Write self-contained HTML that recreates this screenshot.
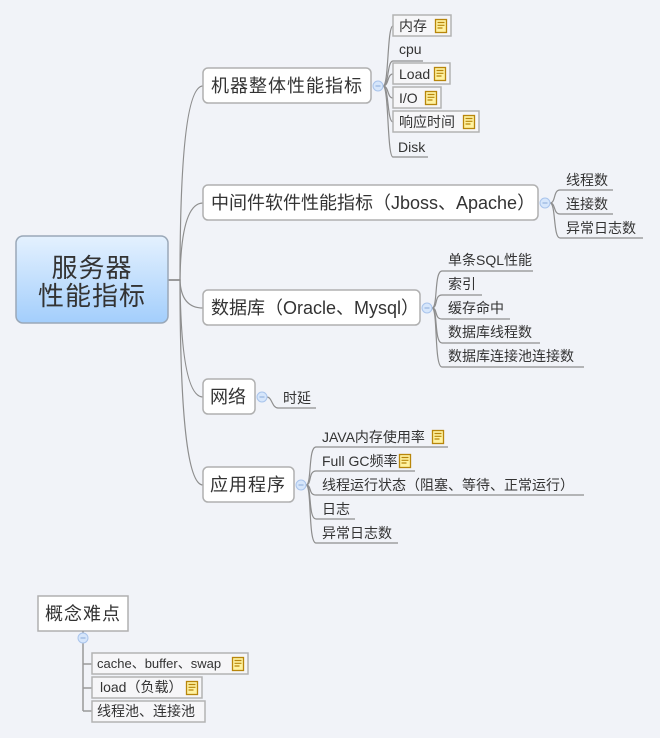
<!DOCTYPE html>
<html><head><meta charset="utf-8"><style>
html,body{margin:0;padding:0;background:#f1f3f8;}
svg{display:block}
text{font-family:"Liberation Sans","Noto Sans CJK SC",sans-serif;fill:#333}
.m{font-size:18px}
.z{letter-spacing:1px}
.c{font-size:14px}
.ln{fill:none;stroke:#8e8e8e;stroke-width:1.2}
.bx{fill:#fff;stroke:#b0b0b0;stroke-width:1.5}
.sb{fill:#f6f6f8;stroke:#b3b3b3;stroke-width:1.5}
</style></head><body>
<svg width="660" height="738" viewBox="0 0 660 738" xmlns="http://www.w3.org/2000/svg">
<defs>
<linearGradient id="g" x1="0" y1="0" x2="0" y2="1"><stop offset="0" stop-color="#e4f1fe"/><stop offset="1" stop-color="#a3cefc"/></linearGradient>
<g id="note"><rect x="0.5" y="0.5" width="11" height="13" fill="#fff2a0" stroke="#b8860b" stroke-width="1.3"/><path d="M2.5 3.5h7M2.5 6.3h7M2.5 9h5" stroke="#b8860b" stroke-width="1.2"/></g>
<g id="col"><circle r="5" fill="#d6e6fb" stroke="#a9c4ec"/><path d="M-2.5 0h5" stroke="#8aa9d8"/></g>
</defs>

<path class="ln" d="M168 280H180Q180 86 203 86"/>
<path class="ln" d="M168 280H180Q181 203 203 203"/>
<path class="ln" d="M168 280H180Q181 308 203 308"/>
<path class="ln" d="M168 280H180Q181 397 203 397"/>
<path class="ln" d="M168 280H180Q180 485 203 485"/>

<rect x="16" y="236" width="152" height="87" rx="7" fill="url(#g)" stroke="#9aa8b8" stroke-width="1.5"/>
<text x="92" y="277" text-anchor="middle" font-size="26" letter-spacing="1">服务器</text>
<text x="92" y="305" text-anchor="middle" font-size="26" letter-spacing="1">性能指标</text>

<rect class="bx" x="203" y="68" width="168" height="35" rx="5"/><text class="m z" x="211" y="92">机器整体性能指标</text>
<rect class="bx" x="203" y="185" width="335" height="35" rx="5"/><text class="m" x="211" y="209">中间件软件性能指标（Jboss、Apache）</text>
<rect class="bx" x="203" y="290" width="217" height="35" rx="5"/><text class="m" x="211" y="314">数据库（Oracle、Mysql）</text>
<rect class="bx" x="203" y="379" width="52" height="35" rx="5"/><text class="m" x="210" y="403">网络</text>
<rect class="bx" x="203" y="467" width="91" height="35" rx="5"/><text class="m z" x="210" y="491">应用程序</text>

<g>
<path class="ln" d="M383 86C389 86 387 26 393 26"/>
<path class="ln" d="M383 86C389 86 387 61 393 61H423"/>
<path class="ln" d="M383 86C389 86 387 74 393 74"/>
<path class="ln" d="M383 86C389 86 387 98 393 98"/>
<path class="ln" d="M383 86C389 86 387 122 393 122"/>
<path class="ln" d="M383 86C389 86 387 157 393 157H428"/>
<rect class="sb" x="393" y="15" width="58" height="21"/><text class="c" x="399" y="31">内存</text><use href="#note" x="435" y="19"/>
<text class="c" x="399" y="54">cpu</text>
<rect class="sb" x="393" y="63" width="57" height="21"/><text class="c" x="399" y="79">Load</text><use href="#note" x="434" y="67"/>
<rect class="sb" x="393" y="87" width="48" height="21"/><text class="c" x="399" y="103">I/O</text><use href="#note" x="425" y="91"/>
<rect class="sb" x="393" y="111" width="86" height="21"/><text class="c" x="399" y="127">响应时间</text><use href="#note" x="463" y="115"/>
<text class="c" x="398" y="152">Disk</text>
<use href="#col" x="378" y="86"/>
</g>

<path class="ln" d="M550 203C556 203 553 190 560 190H613"/>
<path class="ln" d="M550 203C556 203 553 214 560 214H613"/>
<path class="ln" d="M550 203C556 203 553 238 560 238H643"/>
<text class="c" x="566" y="185">线程数</text>
<text class="c" x="566" y="209">连接数</text>
<text class="c" x="566" y="233">异常日志数</text>
<use href="#col" x="545" y="203"/>

<path class="ln" d="M432 308C438 308 434 271 442 271H533"/>
<path class="ln" d="M432 308C438 308 434 295 442 295H482"/>
<path class="ln" d="M432 308C438 308 434 319 442 319H510"/>
<path class="ln" d="M432 308C438 308 434 343 442 343H540"/>
<path class="ln" d="M432 308C438 308 434 367 442 367H584"/>
<text class="c" x="448" y="265">单条SQL性能</text>
<text class="c" x="448" y="289">索引</text>
<text class="c" x="448" y="313">缓存命中</text>
<text class="c" x="448" y="337">数据库线程数</text>
<text class="c" x="448" y="361">数据库连接池连接数</text>
<use href="#col" x="427" y="308"/>

<path class="ln" d="M267 397C272 397 272 408 278 408H316"/>
<text class="c" x="283" y="403">时延</text>
<use href="#col" x="262" y="397"/>

<path class="ln" d="M306 485C312 485 308 447 316 447H448"/>
<path class="ln" d="M306 485C312 485 308 471 316 471H415"/>
<path class="ln" d="M306 485C312 485 308 495 316 495H584"/>
<path class="ln" d="M306 485C312 485 308 519 316 519H355"/>
<path class="ln" d="M306 485C312 485 308 543 316 543H398"/>
<text class="c" x="322" y="442">JAVA内存使用率</text><use href="#note" x="432" y="430"/>
<text class="c" x="322" y="466">Full GC频率</text><use href="#note" x="399" y="454"/>
<text class="c" x="322" y="490">线程运行状态（阻塞、等待、正常运行）</text>
<text class="c" x="322" y="514">日志</text>
<text class="c" x="322" y="538">异常日志数</text>
<use href="#col" x="301" y="485"/>

<rect class="bx" x="38" y="596" width="90" height="35"/>
<text class="m z" x="45" y="620">概念难点</text>
<path d="M83 631V711M83 664H92M83 688H92M83 711H92" stroke="#999" stroke-width="1.5" fill="none"/>
<use href="#col" x="83" y="638"/>
<rect class="sb" x="92" y="653" width="156" height="21"/><text x="97" y="668" font-size="13">cache、buffer、swap</text><use href="#note" x="232" y="657"/>
<rect class="sb" x="92" y="677" width="110" height="21"/><text class="c" x="100" y="692">load（负载）</text><use href="#note" x="186" y="681"/>
<rect class="sb" x="92" y="701" width="113" height="21"/><text class="c" x="97" y="716">线程池、连接池</text>
</svg>
</body></html>
